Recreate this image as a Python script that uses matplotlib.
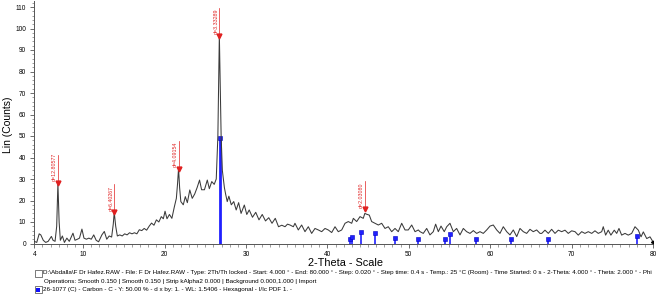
import matplotlib
matplotlib.use("Agg")
import matplotlib.pyplot as plt
from matplotlib.patches import Rectangle
from matplotlib.ticker import MultipleLocator

plt.rcParams['font.family'] = ['Liberation Sans', 'DejaVu Sans']

# measured pattern (2-theta, counts)
two_theta = [4.0, 4.3, 4.6, 4.8, 5.1, 5.4, 5.7, 6.1, 6.3, 6.55, 6.75, 6.9, 7.05, 7.2, 7.45,
             7.7, 8.0, 8.3, 8.75, 9.0, 9.3, 9.55, 9.85, 10.1, 10.4, 10.7, 11.0, 11.3, 11.6,
             11.9, 12.3, 12.6, 12.9, 13.2, 13.5, 13.7, 13.82, 14.0, 14.2, 14.5, 14.8, 15.1,
             15.4, 15.7, 16.0, 16.3, 16.6, 16.9, 17.2, 17.5, 17.8, 18.1, 18.4, 18.7, 19.0,
             19.3, 19.6, 19.85, 20.06, 20.3, 20.6, 20.9, 21.2, 21.45, 21.6, 21.72, 21.85,
             22.0, 22.3, 22.55, 22.8, 23.1, 23.4, 23.7, 24.0, 24.3, 24.55, 24.9, 25.25,
             25.5, 25.8, 26.1, 26.35, 26.55, 26.73, 26.95, 27.1, 27.35, 27.5, 27.7, 27.9,
             28.2, 28.5, 28.8, 29.1, 29.4, 29.8, 30.1, 30.4, 30.8, 31.2, 31.6, 32.0, 32.4,
             32.8, 33.2, 33.6, 34.0, 34.4, 34.8, 35.1,
             35.41, 35.82, 36.02, 36.43, 36.84, 37.25, 37.66, 38.07, 38.48, 38.89, 39.30,
             39.71, 40.11, 40.53, 40.94, 41.34, 41.76, 42.17, 42.57, 42.99, 43.19, 43.60,
             44.01, 44.41, 44.6, 44.83, 45.15, 45.44, 45.85, 46.26, 46.67, 47.08, 47.48,
             47.90, 48.31, 48.71, 49.13, 49.54, 49.94, 50.36, 50.77, 51.17,
             51.38, 51.78, 52.20, 52.60, 53.01, 53.30, 53.63, 53.96, 54.36, 54.66, 55.06,
             55.47, 55.88, 56.29, 56.70, 57.11, 57.52, 57.93, 58.34, 58.75, 59.15, 59.57,
             59.98, 60.38, 60.80, 61.20, 61.61, 62.03, 62.43, 62.84, 63.26, 63.66, 64.07,
             64.48, 64.89, 65.29, 65.71, 66.12,
             66.33, 66.73, 67.14, 67.55, 67.96, 68.37, 68.78, 69.19, 69.59, 70.01, 70.42,
             70.82, 71.24, 71.64, 72.05, 72.47, 72.87, 73.28, 73.70, 73.89, 74.18, 74.50,
             74.83, 75.24, 75.54, 75.82, 76.15, 76.56, 76.96, 77.38, 77.79, 78.20, 78.53,
             78.81, 79.23, 79.63, 80.0]
counts = [1.0, 0.5, 4.5, 4.0, 1.5, 0.5, 1.0, 3.3, 1.5, 1.0, 8.0, 28.0, 10.0, 1.5, 3.5,
          0.5, 2.5, 1.0, 4.8, 1.5, 2.0, 2.5, 6.7, 2.5, 2.0, 2.5, 2.0, 4.0, 1.5,
          0.8, 4.0, 5.6, 2.0, 3.5, 3.0, 9.0, 14.5, 8.0, 3.5, 4.0, 3.5, 4.5,
          4.0, 5.0, 4.5, 5.0, 4.5, 6.4, 6.0, 7.0, 6.2, 8.0, 9.5, 8.5, 11.0,
          10.0, 12.5, 11.5, 15.0, 11.5, 13.5, 11.7, 17.0, 21.0, 28.0, 35.0, 26.0,
          19.5, 18.0, 21.8, 19.0, 24.9, 21.0, 23.0, 26.0, 29.5, 25.0, 25.0, 29.5,
          25.5, 28.8, 27.5, 30.0, 50.0, 97.0, 50.0, 34.0, 26.0, 23.0, 19.5, 22.0,
          18.0, 19.5, 15.6, 19.0, 14.0, 17.9, 13.5, 15.6, 12.2, 14.5, 11.0, 13.5, 10.5,
          12.0, 9.4, 11.7, 7.8, 8.5, 7.8, 9.0,
          8.6, 7.8, 9.4, 6.3, 8.6, 5.5, 7.8, 4.7, 7.0, 6.3, 5.5,
          7.0, 6.3, 5.1, 7.8, 5.5, 6.3, 9.4, 10.2, 9.4, 11.7, 10.2,
          12.5, 11.7, 14.0, 13.6, 13.2, 10.2, 9.4, 8.6, 9.4, 7.0, 7.8,
          5.5, 7.0, 5.5, 9.4, 6.3, 6.3, 8.6, 5.5, 6.3,
          5.5, 4.7, 7.0, 4.0, 5.5, 9.0, 5.5, 8.1, 5.5, 7.8, 9.4,
          5.5, 7.0, 4.0, 7.0, 5.5, 4.7, 6.0, 4.7, 5.5, 4.7, 6.3,
          8.1, 8.6, 6.3, 4.7, 7.8, 5.5, 4.0, 6.3, 3.2, 7.0, 5.5,
          4.7, 6.6, 5.5, 6.3, 4.7,
          4.7, 6.2, 4.7, 6.6, 4.7, 6.2, 5.5, 6.2, 4.7, 5.9, 5.5,
          3.9, 5.5, 4.7, 5.5, 4.7, 5.9, 4.7, 5.5, 7.8, 3.9, 6.2,
          3.9, 6.2, 4.7, 7.0, 3.9, 4.7, 3.9, 4.7, 7.8, 6.2, 3.1,
          5.4, 2.3, 3.1, 0.8]

# labelled peaks
peak_pos = [6.90, 13.82, 21.72, 26.73, 44.58]
peak_height = [28.3, 14.6, 34.8, 96.7, 15.9]
peak_labels = ["d=12.80577", "d=6.40267", "d=4.09154", "d=3.33289", "d=2.03080"]

# reference pattern 26-1077 Carbon
ref_pos = [26.80, 42.74, 43.06, 44.17, 45.90, 48.26, 51.13, 54.48, 55.10, 58.30,
           62.50, 67.06, 78.00]
ref_int = [49.2, 2.0, 3.0, 5.5, 5.0, 2.4, 2.0, 2.0, 4.4, 2.3, 2.3, 2.0, 3.5]

x_ticks = [4, 10, 20, 30, 40, 50, 60, 70, 80]
y_ticks = [0, 10, 20, 30, 40, 50, 60, 70, 80, 90, 100, 110]

W, H = 661, 295
fig = plt.figure(figsize=(W / 100, H / 100), dpi=100)
ax = fig.add_axes([34.3 / W, 51.5 / H, (653 - 34.3) / W, 242.95 / H])
ax.set_xlim(4, 80)
ax.set_ylim(0, 113)

# reference sticks
blue = '#2020ff'
for p, h in zip(ref_pos, ref_int):
    lw = 2.0 if h > 20 else 1.2
    ax.plot([p, p], [0, h], color=blue, lw=lw, solid_capstyle='butt', zorder=2)
    ax.plot([p], [h], marker='s', ms=2.6, color=blue, mec='#0000c0', mew=0.4, zorder=3)

ax.plot(two_theta, counts, color='#3a3a3a', lw=0.75, zorder=4)
ax.plot([80], [0.8], marker='<', ms=3, color='black', zorder=5)

# peak markers and labels
red = '#e02020'
px_per_unit = 2.15
for p, h, lab in zip(peak_pos, peak_height, peak_labels):
    ax.plot([p], [h], marker='v', ms=3.5, color=red, mec=red, zorder=6)
    top = h + 28 / px_per_unit
    ax.plot([p, p], [h, top], color=red, lw=0.5, zorder=6)
    ax.text(p - 3.2 / 8.141, h + 1.5 / px_per_unit, lab, rotation=90, ha='center',
            va='bottom', fontsize=3.8, color=red, zorder=6)

for s in ['top', 'right']:
    ax.spines[s].set_visible(False)
for s in ['left', 'bottom']:
    ax.spines[s].set_color('#555555')
    ax.spines[s].set_linewidth(0.7)

ax.set_xticks(x_ticks)
ax.set_yticks(y_ticks)
ax.xaxis.set_minor_locator(MultipleLocator(1))
ax.yaxis.set_minor_locator(MultipleLocator(2))
ax.tick_params(axis='both', which='major', labelsize=4.7, length=3, width=0.6,
               color='#555555', direction='out')
ax.tick_params(axis='both', which='minor', length=1.8, width=0.5, color='#777777',
               direction='out')
ax.tick_params(axis='x', pad=2.5)
ax.tick_params(axis='y', pad=3)

fig.text(8 / W, 1 - 125 / H, 'Lin (Counts)', rotation=90, ha='center', va='center',
         fontsize=7.5)
fig.text(345 / W, 1 - 263.5 / H, '2-Theta - Scale', ha='center', va='center',
         fontsize=7.8)

line1 = ("D:\\Abdalla\\F Dr Hafez.RAW - File: F Dr Hafez.RAW - Type: 2Th/Th locked - "
         "Start: 4.000 \u00b0 - End: 80.000 \u00b0 - Step: 0.020 \u00b0 - Step time: 0.4 s - "
         "Temp.: 25 \u00b0C (Room) - Time Started: 0 s - 2-Theta: 4.000 \u00b0 - "
         "Theta: 2.000 \u00b0 - Phi")
line2 = ("Operations: Smooth 0.150 | Smooth 0.150 | Strip kAlpha2 0.000 | "
         "Background 0.000,1.000 | Import")
line3 = ("26-1077 (C) - Carbon - C - Y: 50.00 % - d x by: 1. - WL: 1.5406 - "
         "Hexagonal - I/Ic PDF 1. -")
fs_footer = 4.5
fig.text(43 / W, 1 - 272.5 / H, line1, ha='left', va='center', fontsize=fs_footer)
fig.text(44 / W, 1 - 281 / H, line2, ha='left', va='center', fontsize=fs_footer)
fig.text(43 / W, 1 - 289.5 / H, line3, ha='left', va='center', fontsize=fs_footer)

# small icons in the footer
fig.patches.append(Rectangle((34.5 / W, 1 - 276.5 / H), 7 / W, 7 / H, transform=fig.transFigure,
                             fill=False, ec='#444444', lw=0.5))
fig.patches.append(Rectangle((34.5 / W, 1 - 293 / H), 7 / W, 7 / H, transform=fig.transFigure,
                             fill=False, ec='#444444', lw=0.5))
fig.patches.append(Rectangle((36 / W, 1 - 291.5 / H), 4 / W, 4 / H, transform=fig.transFigure,
                             fc='#1010ff', ec='none'))

fig.savefig('out.png', dpi=100)
